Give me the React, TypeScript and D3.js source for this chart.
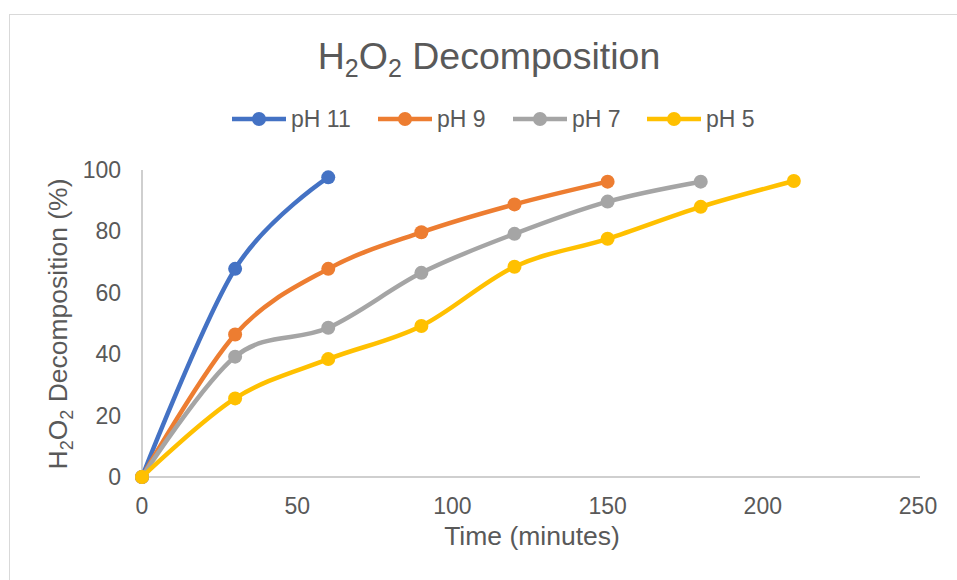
import React from "react";
import * as d3 from "d3";

const times = [0, 30, 60, 90, 120, 150, 180, 210];
const seriesNames = ["pH 11", "pH 9", "pH 7", "pH 5"];
const pH11 = [0, 67.8, 97.6];
const pH9 = [0, 46.4, 67.8, 79.7, 88.8, 96.2];
const pH7 = [0, 39.2, 48.6, 66.5, 79.2, 89.7, 96.2];
const pH5 = [0, 25.6, 38.4, 49.2, 68.5, 77.6, 88.0, 96.4];
const colors = ["#4472C4", "#ED7D31", "#A5A5A5", "#FFC000"];
const xTicks = [0, 50, 100, 150, 200, 250];
const yTicks = [0, 20, 40, 60, 80, 100];

const W = 957;
const H = 580;
const FONT = "'Liberation Sans', Arial, sans-serif";
const TXT = "#595959";

export default function App() {
  const x = d3.scaleLinear().domain([0, 250]).range([142, 918]);
  const y = d3.scaleLinear().domain([0, 100]).range([477, 170]);
  const allSeries = [pH11, pH9, pH7, pH5].map((vals) =>
    vals.map((v, i) => [times[i], v] as [number, number])
  );
  const line = d3
    .line<[number, number]>()
    .x((d) => x(d[0]))
    .y((d) => y(d[1]))
    .curve(d3.curveCatmullRom.alpha(0));

  const legendX = [232, 378, 513, 647];
  const legendY = 119;

  return (
    <svg
      width={W}
      height={H}
      style={{ position: "absolute", left: 0, top: 0, background: "#fff" }}
      fontFamily={FONT}
    >
      <rect x={0} y={0} width={W} height={H} fill="#fff" />
      <rect x={9.5} y={14.5} width={1000} height={700} fill="none" stroke="#D9D9D9" strokeWidth={1} />
      {/* title */}
      <text x={489} y={68.5} textAnchor="middle" fontSize={37.5} fill={TXT}>
        H<tspan fontSize={25} dy={8}>2</tspan>
        <tspan dy={-8}>O</tspan>
        <tspan fontSize={25} dy={8}>2</tspan>
        <tspan dy={-8}> Decomposition</tspan>
      </text>
      {/* legend */}
      {seriesNames.map((n, i) => (
        <g key={n}>
          <line x1={legendX[i]} x2={legendX[i] + 54} y1={legendY} y2={legendY} stroke={colors[i]} strokeWidth={4.5} />
          <circle cx={legendX[i] + 27} cy={legendY} r={7} fill={colors[i]} />
          <text x={legendX[i] + 59} y={legendY + 8} fontSize={23} fill={TXT}>
            {n}
          </text>
        </g>
      ))}
      {/* axes */}
      <line x1={x(0)} x2={x(0)} y1={y(0)} y2={y(100)} stroke="#BFBFBF" strokeWidth={1.5} />
      <line x1={x(0)} x2={920} y1={y(0)} y2={y(0)} stroke="#BFBFBF" strokeWidth={1.5} />
      {yTicks.map((t) => (
        <text key={"y" + t} x={121} y={y(t) + 8} textAnchor="end" fontSize={23} fill={TXT}>
          {t}
        </text>
      ))}
      {xTicks.map((t) => (
        <text key={"x" + t} x={x(t)} y={513.5} textAnchor="middle" fontSize={23} fill={TXT}>
          {t}
        </text>
      ))}
      <text x={532} y={545} textAnchor="middle" fontSize={26.5} fill={TXT}>
        Time (minutes)
      </text>
      <text transform="translate(67,324) rotate(-90)" textAnchor="middle" fontSize={26.5} fill={TXT}>
        H<tspan fontSize={18} dy={6}>2</tspan>
        <tspan dy={-6}>O</tspan>
        <tspan fontSize={18} dy={6}>2</tspan>
        <tspan dy={-6}> Decomposition (%)</tspan>
      </text>
      {/* series */}
      {allSeries.map((s, i) => (
        <g key={"s" + i}>
          <path d={line(s) || ""} fill="none" stroke={colors[i]} strokeWidth={4.5} strokeLinecap="round" />
          {s.map((d, j) => (
            <circle key={j} cx={x(d[0])} cy={y(d[1])} r={7} fill={colors[i]} />
          ))}
        </g>
      ))}
    </svg>
  );
}
